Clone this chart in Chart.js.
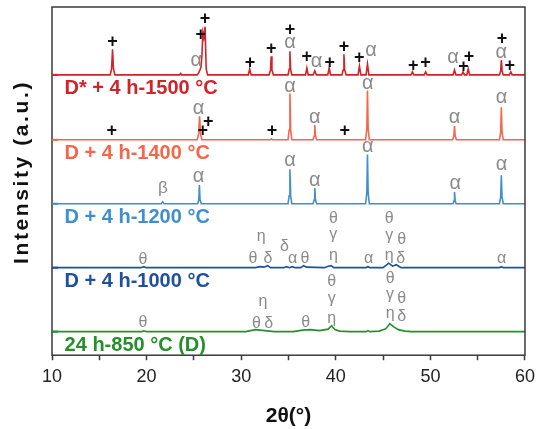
<!DOCTYPE html>
<html>
<head>
<meta charset="utf-8">
<script src="https://cdn.jsdelivr.net/npm/chart.js@4.4.1/dist/chart.umd.min.js"></script>
<style>
  html, body { margin: 0; padding: 0; background: #fff; }
</style>
</head>
<body>
<canvas id="xrd" width="541" height="429"></canvas>
<script>
// Sample names, bottom to top
const samples = ['24 h-850 °C (D)', 'D + 4 h-1000 °C', 'D + 4 h-1200 °C', 'D + 4 h-1400 °C', 'D* + 4 h-1500 °C'];
// Vertical shift of each pattern (a.u.)
const offsets = [24, 89, 154, 219, 285];

// Patterns as [2θ, intensity above the pattern's own baseline]
const xrd850 = [
  [10, 0], [19.5, 0], [19.7, 0.8], [20, 0], [30.5, 0], [31.5, 2], [32.5, 1], [33.5, 0],
  [35.5, 0], [36.5, 1.5], [37.3, 2], [38.3, 1], [39.2, 2.5], [39.55, 6], [39.9, 2], [40.4, 0.5],
  [41.5, 0], [43.2, 0], [43.4, 1], [43.6, 0], [44.6, 0.5], [45.3, 3], [45.7, 8], [46.1, 5],
  [46.6, 2], [47.3, 0.5], [48, 0], [60, 0]
];
const xrd1000 = [
  [10, 0], [19.4, 0], [19.7, 1], [20, 0], [31.5, 0], [32.0, 1], [32.4, 0.5], [32.8, 2], [33.1, 0],
  [34.5, 0], [34.8, 1], [35.1, 0], [35.4, 1], [35.7, 0], [36.3, 0], [36.6, 2], [36.9, 0.5],
  [38.8, 0], [39.2, 1.5], [39.5, 2], [39.8, 0], [43.2, 0], [43.4, 1.2], [43.6, 0],
  [45.0, 0], [45.6, 4.5], [46.0, 1.5], [46.4, 3], [46.9, 0], [57.3, 0], [57.5, 1], [57.7, 0], [60, 0]
];
const xrd1200 = [
  [10, 0], [21.55, 0], [21.7, 2], [21.85, 0],
  [25.4, 0], [25.52, 4], [25.58, 19], [25.65, 4], [25.78, 0],
  [34.95, 0], [35.07, 8], [35.15, 35], [35.23, 8], [35.35, 0],
  [37.6, 0], [37.72, 4], [37.78, 16], [37.85, 4], [37.98, 0],
  [43.15, 0], [43.28, 11], [43.35, 50], [43.42, 11], [43.55, 0],
  [52.4, 0], [52.5, 3], [52.55, 12], [52.62, 3], [52.72, 0],
  [57.3, 0], [57.43, 7], [57.5, 29], [57.57, 7], [57.7, 0], [60, 0]
];
const xrd1400 = [
  [10, 0], [25.35, 0], [25.5, 6], [25.6, 24], [25.7, 6], [25.85, 0],
  [33.1, 0], [33.2, 1], [33.3, 0],
  [34.95, 0], [35.07, 10], [35.15, 47], [35.23, 10], [35.35, 0],
  [37.6, 0], [37.72, 4], [37.78, 15], [37.85, 4], [37.98, 0],
  [43.15, 0], [43.28, 11], [43.35, 50], [43.42, 11], [43.55, 0],
  [52.35, 0], [52.48, 4], [52.55, 14], [52.62, 4], [52.75, 0],
  [57.3, 0], [57.43, 8], [57.5, 33], [57.57, 8], [57.7, 0], [60, 0]
];
const xrd1500 = [
  [10, 0], [16.15, 0], [16.3, 6], [16.4, 26], [16.5, 6], [16.65, 0],
  [23.5, 0], [23.6, 1.5], [23.7, 0],
  [25.35, 0], [25.5, 2], [25.6, 4], [25.75, 8], [25.85, 20], [25.95, 43], [26.05, 38], [26.18, 49], [26.3, 6], [26.45, 0],
  [30.75, 0], [30.9, 6], [31.05, 0],
  [32.95, 0], [33.1, 5], [33.17, 19], [33.25, 5], [33.4, 0],
  [34.95, 0], [35.08, 6], [35.15, 24], [35.22, 6], [35.35, 0],
  [36.8, 0], [36.94, 7], [37.08, 0],
  [37.6, 0], [37.78, 4], [37.95, 0],
  [39.15, 0], [39.3, 7], [39.45, 0],
  [40.65, 0], [40.78, 5], [40.86, 21], [40.94, 5], [41.1, 0],
  [42.35, 0], [42.5, 9], [42.65, 0],
  [43.2, 0], [43.35, 11], [43.5, 0],
  [47.95, 0], [48.1, 3], [48.25, 0],
  [49.35, 0], [49.5, 3], [49.65, 0],
  [52.4, 0], [52.55, 5], [52.7, 0],
  [53.3, 0], [53.45, 3], [53.6, 0], [53.85, 0], [54.0, 6], [54.15, 0],
  [57.3, 0], [57.43, 4], [57.5, 15], [57.58, 4], [57.7, 0],
  [58.35, 0], [58.5, 3], [58.65, 0], [60, 0]
];
const patterns = [xrd850, xrd1000, xrd1200, xrd1400, xrd1500];

// Phase marks: [symbol, 2θ, height above the pattern baseline]
const marks850 = [
  ['θ', 19.61, 11], ['η', 32.3, 29.3], ['θ', 31.6, 9.7], ['δ', 32.9, 9.7], ['θ', 36.83, 11],
  ['θ', 39.56, 52], ['γ', 39.56, 32], ['η', 39.56, 12],
  ['θ', 45.74, 55.3], ['γ', 45.74, 36.3], ['θ', 46.97, 35.3], ['η', 45.74, 17], ['δ', 46.97, 17]
];
const marks1000 = [
  ['θ', 19.61, 10.3], ['η', 32.12, 30.3], ['θ', 31.25, 11], ['δ', 32.82, 11], ['δ', 34.57, 22.7],
  ['α', 35.44, 9.7], ['θ', 36.73, 11], ['θ', 39.74, 52], ['γ', 39.74, 32], ['η', 39.74, 11],
  ['α', 43.48, 9.5], ['θ', 45.64, 52], ['γ', 45.64, 31.3], ['θ', 46.97, 30.3], ['η', 45.64, 11],
  ['δ', 46.87, 11], ['α', 57.53, 9.3]
];
const marks1200 = [
  ['β', 21.71, 15.3], ['α', 25.48, 27.7], ['α', 35.16, 43.7], ['α', 37.78, 23.7],
  ['α', 43.38, 57.7], ['α', 52.63, 21], ['α', 57.53, 40.3]
];
const marks1400 = [
  ['α', 25.48, 32], ['+', 16.33, 9.7], ['+', 26.53, 18.7], ['+', 25.93, 9.7], ['+', 33.27, 9.7],
  ['α', 35.16, 53.7], ['α', 37.78, 22.7], ['+', 40.96, 9.7], ['α', 43.38, 57],
  ['α', 52.56, 22.7], ['α', 57.53, 43]
];
const marks1500 = [
  ['+', 16.39, 34.3], ['+', 25.72, 41.7], ['+', 26.18, 58.3], ['α', 25.24, 14.3], ['+', 30.93, 12.7],
  ['+', 33.17, 27], ['+', 35.16, 46.7], ['α', 35.16, 32.7], ['+', 36.94, 19.3], ['α', 37.96, 13.3],
  ['+', 39.35, 13.3], ['+', 40.86, 29.3], ['+', 42.49, 17.7], ['α', 43.72, 24.3], ['+', 48.2, 10],
  ['+', 49.49, 12.7], ['α', 52.39, 17.7], ['+', 53.5, 9.3], ['+', 54.07, 18.7], ['+', 57.56, 37],
  ['α', 57.49, 22.7], ['+', 58.4, 10]
];
const phaseMarks = [marks850, marks1000, marks1200, marks1400, marks1500];

const xTicks = [10, 20, 30, 40, 50, 60];

const FONT = '"Liberation Sans", Arial, sans-serif';
const colors = ['#23902a', '#1f4f9e', '#3f8fcf', '#f4674a', '#d2222a'];
const markSize = [16, 16, 20, 20, 20];

// put a glyph's ink box centre on (px, py)
function centred(ctx, text, px, py) {
  const m = ctx.measureText(text);
  ctx.fillText(text, px, py + (m.actualBoundingBoxAscent - m.actualBoundingBoxDescent) / 2);
}

const decor = {
  id: 'decor',
  afterDraw(chart) {
    const { ctx, chartArea: a, scales: { x, y } } = chart;
    ctx.save();

    // frame
    ctx.strokeStyle = '#3a3a3a';
    ctx.lineWidth = 1.5;
    ctx.strokeRect(a.left, a.top, a.right - a.left, a.bottom - a.top);

    // coloured marks on the left axis at each baseline
    offsets.forEach((off, i) => {
      const py = y.getPixelForValue(off);
      ctx.strokeStyle = colors[i];
      ctx.lineWidth = 2;
      ctx.beginPath();
      ctx.moveTo(a.left, py);
      ctx.lineTo(a.left + 6, py);
      ctx.stroke();
    });

    // sample names under each pattern
    ctx.textAlign = 'left';
    ctx.textBaseline = 'middle';
    ctx.font = 'bold 20px ' + FONT;
    samples.forEach((name, i) => {
      ctx.fillStyle = colors[i];
      ctx.fillText(name, x.getPixelForValue(11.33), y.getPixelForValue(offsets[i] - 14));
    });

    // phase marks
    ctx.textAlign = 'center';
    ctx.textBaseline = 'alphabetic';
    phaseMarks.forEach((list, i) => {
      list.forEach(([sym, tt, h]) => {
        if (sym === '+') {
          ctx.font = 'bold 18px ' + FONT;
          ctx.fillStyle = '#111';
        } else {
          ctx.font = (sym === 'β' ? 17 : markSize[i]) + 'px ' + FONT;
          ctx.fillStyle = '#8a8a8a';
        }
        centred(ctx, sym, x.getPixelForValue(tt), y.getPixelForValue(offsets[i] + h));
      });
    });

    // y-axis title
    ctx.translate(22.5, 172);
    ctx.rotate(-Math.PI / 2);
    ctx.font = 'bold 21px ' + FONT;
    ctx.letterSpacing = '2.6px';
    ctx.fillStyle = '#111';
    ctx.textBaseline = 'middle';
    ctx.fillText('Intensity (a.u.)', 0, 0);
    ctx.restore();
  }
};

new Chart(document.getElementById('xrd'), {
  type: 'line',
  data: {
    datasets: patterns.map((pts, i) => ({
      label: samples[i],
      data: pts.map(([tt, v]) => ({ x: tt, y: offsets[i] + v })),
      borderColor: colors[i],
      borderWidth: 1.6,
      pointRadius: 0,
      tension: 0,
      fill: false
    }))
  },
  options: {
    responsive: false,
    animation: false,
    devicePixelRatio: 1,
    layout: { padding: { left: 52, right: 12, top: 7, bottom: 0 } },
    plugins: { legend: { display: false }, tooltip: { enabled: false } },
    scales: {
      x: {
        type: 'linear',
        min: 10,
        max: 60,
        border: { display: false },
        grid: { drawOnChartArea: false, drawTicks: true, tickLength: 5, tickColor: '#3a3a3a', tickWidth: 1.5 },
        ticks: {
          stepSize: 5,
          autoSkip: false,
          maxRotation: 0,
          padding: 6,
          color: '#222',
          font: { family: FONT, size: 18 },
          callback: v => xTicks.includes(v) ? v : ''
        },
        title: {
          display: true,
          text: '2θ(°)',
          color: '#111',
          font: { family: FONT, size: 21, weight: 'bold' },
          padding: { top: 10, bottom: 0 }
        }
      },
      y: {
        display: false,
        min: 0,
        max: 354
      }
    }
  },
  plugins: [decor]
});
</script>
</body>
</html>
